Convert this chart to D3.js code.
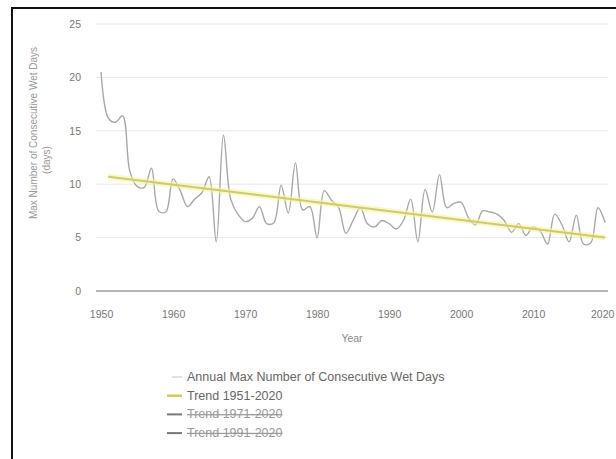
<!DOCTYPE html>
<html><head><meta charset="utf-8">
<script src="https://cdn.jsdelivr.net/npm/d3@7"></script>
<style>html,body{margin:0;padding:0;background:#fff;}svg{display:block;font-family:"Liberation Sans",Arial,sans-serif;}</style>
</head><body>
<svg id="chart" width="616" height="459"></svg>
<script>
const years = d3.range(1950, 2021);
const wetDays = [20.5,16.2,15.8,16.4,11.2,9.8,9.7,11.5,7.5,7.4,
  10.5,9.4,7.9,8.6,9.2,10.7,4.6,14.6,8.6,7.2,
  6.5,6.8,7.9,6.3,6.4,9.9,7.3,12.0,7.6,7.9,
  5.0,9.4,8.5,7.8,5.4,6.6,7.8,6.3,6.0,6.6,
  6.3,5.8,6.6,8.6,4.6,9.5,7.4,10.9,7.8,8.2,
  8.3,6.9,6.2,7.5,7.4,7.2,6.6,5.5,6.3,5.2,
  6.0,5.6,4.4,7.2,6.2,4.6,7.1,4.4,4.5,7.8,6.4];
const trendYears = [1951, 2020];
const trendValues = [10.7, 5.0];
const yTicks = [0, 5, 10, 15, 20, 25];
const xTicks = [1950, 1960, 1970, 1980, 1990, 2000, 2010, 2020];
const legendLabels = ["Annual Max Number of Consecutive Wet Days", "Trend 1951-2020", "Trend 1971-2020", "Trend 1991-2020"];

const svg = d3.select("#chart");
const x = d3.scaleLinear().domain([1949.3, 2020.4]).range([96, 608]);
const y = d3.scaleLinear().domain([0, 25]).range([291, 24]);

// frame
svg.append("path").attr("d", "M12,460 L12,8 L620,8").attr("fill", "none").attr("stroke", "#111").attr("stroke-width", 2);

// gridlines
svg.append("g").selectAll("line").data(yTicks.filter(d => d > 0)).join("line")
  .attr("x1", 96).attr("x2", 608).attr("y1", d => y(d)).attr("y2", d => y(d))
  .attr("stroke", "#e8e8e8").attr("stroke-width", 1);
svg.append("line").attr("x1", 96).attr("x2", 608).attr("y1", y(0)).attr("y2", y(0))
  .attr("stroke", "#6a6a6a").attr("stroke-width", 1.2);

// y labels
const yAxis = d3.axisLeft(y).tickValues(yTicks).tickSize(0).tickPadding(0);
const gy = svg.append("g").attr("transform", "translate(81,0)").call(yAxis);
gy.select(".domain").remove();
gy.selectAll("text").attr("fill", "#777").attr("font-size", 10.5).attr("font-family", "Liberation Sans, Arial, sans-serif");

// x labels
const xAxis = d3.axisBottom(x).tickValues(xTicks).tickFormat(d3.format("d")).tickSize(0).tickPadding(0);
const gx = svg.append("g").attr("transform", "translate(0,311)").call(xAxis);
gx.select(".domain").remove();
gx.selectAll("text").attr("fill", "#777").attr("font-size", 10.5).attr("font-family", "Liberation Sans, Arial, sans-serif");
gx.selectAll(".tick").filter(d => d === 2020).select("text").attr("dx", -3);

// axis titles
svg.append("text").attr("x", 352).attr("y", 342).attr("text-anchor", "middle")
  .attr("fill", "#888").attr("font-size", 10.5).text("Year");
svg.append("text").attr("transform", "translate(37,133) rotate(-90)").attr("text-anchor", "middle")
  .attr("fill", "#999").attr("font-size", 10).text("Max Number of Consecutive Wet Days");
svg.append("text").attr("transform", "translate(50,160) rotate(-90)").attr("text-anchor", "middle")
  .attr("fill", "#999").attr("font-size", 10).text("(days)");

// data line
const line = d3.line().x((d, i) => x(years[i])).y(d => y(d)).curve(d3.curveCatmullRom.alpha(0.5));
svg.append("path").datum(wetDays).attr("d", line).attr("fill", "none")
  .attr("stroke", "#a8a8a8").attr("stroke-width", 1.4);

// trend
const tline = d3.line().x((d, i) => x(trendYears[i])).y(d => y(d));
svg.append("path").datum(trendValues).attr("d", tline).attr("fill", "none")
  .attr("stroke", "#f5f2b0").attr("stroke-width", 6).attr("stroke-opacity", 0.6);
svg.append("path").datum(trendValues).attr("d", tline).attr("fill", "none")
  .attr("stroke", "#d2cc5a").attr("stroke-width", 2);

// legend
const legendColors = ["#c4c4c4", "#d2cc5a", "#777", "#777"];
const legendWidths = [1, 2.5, 2, 2];
const textColors = ["#666", "#666", "#999", "#999"];
const lg = svg.append("g");
legendLabels.forEach((lab, i) => {
  const yy = 377 + i * 18.7;
  lg.append("line").attr("x1", i === 0 ? 172 : 167).attr("x2", 182).attr("y1", yy).attr("y2", yy)
    .attr("stroke", legendColors[i]).attr("stroke-width", legendWidths[i]);
  lg.append("text").attr("x", 187).attr("y", yy + 4).attr("fill", textColors[i]).attr("font-size", 12.5)
    .attr("text-decoration", i >= 2 ? "line-through" : null).text(lab);
});
</script>
</body></html>
